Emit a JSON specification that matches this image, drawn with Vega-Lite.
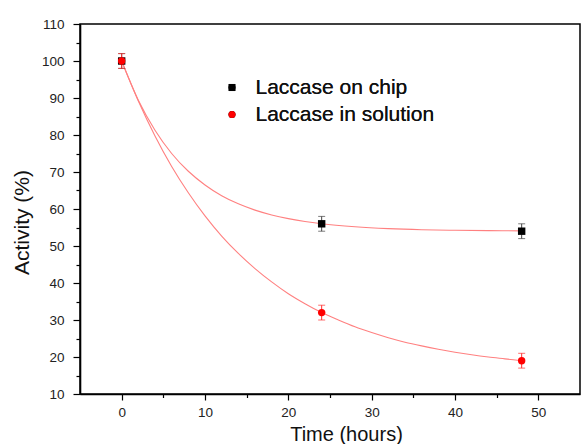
{
  "$schema": "https://vega.github.io/schema/vega-lite/v6.json",
  "width": 500,
  "height": 370,
  "autosize": "none",
  "padding": {"left": 80, "top": 24, "right": 1, "bottom": 50},
  "background": "white",
  "config": {
    "view": {"stroke": "#000", "strokeWidth": 1.5},
    "axis": {
      "labelFont": "Liberation Sans",
      "labelFontSize": 13.5,
      "labelColor": "#222",
      "titleFont": "Liberation Sans",
      "titleFontWeight": "normal",
      "titleColor": "#111",
      "domainColor": "#000",
      "domainWidth": 1.6,
      "tickColor": "#000",
      "tickWidth": 1.2,
      "grid": false
    }
  },
  "datasets": {
    "pts": [
      {"series": "Laccase on chip", "t": 0, "y": 100, "lo": 98, "hi": 102},
      {"series": "Laccase on chip", "t": 24, "y": 56, "lo": 54, "hi": 58},
      {"series": "Laccase on chip", "t": 48, "y": 54, "lo": 52, "hi": 56},
      {"series": "Laccase in solution", "t": 0, "y": 100, "lo": 98, "hi": 102},
      {"series": "Laccase in solution", "t": 24, "y": 32, "lo": 30, "hi": 34},
      {"series": "Laccase in solution", "t": 48, "y": 19, "lo": 17, "hi": 21}
    ],
    "curves": [
      {"c": "chip", "t": 0, "y": 100}, {"c": "chip", "t": 2, "y": 89.4}, {"c": "chip", "t": 4, "y": 81.3},
      {"c": "chip", "t": 6, "y": 75.0}, {"c": "chip", "t": 8, "y": 70.2}, {"c": "chip", "t": 10, "y": 66.5},
      {"c": "chip", "t": 12, "y": 63.6}, {"c": "chip", "t": 14, "y": 61.4}, {"c": "chip", "t": 16, "y": 59.7},
      {"c": "chip", "t": 18, "y": 58.4}, {"c": "chip", "t": 20, "y": 57.4}, {"c": "chip", "t": 22, "y": 56.6},
      {"c": "chip", "t": 24, "y": 56.0}, {"c": "chip", "t": 28, "y": 55.2}, {"c": "chip", "t": 32, "y": 54.7},
      {"c": "chip", "t": 36, "y": 54.4}, {"c": "chip", "t": 40, "y": 54.25}, {"c": "chip", "t": 44, "y": 54.15},
      {"c": "chip", "t": 48, "y": 54.1},
      {"c": "sol", "t": 0, "y": 100}, {"c": "sol", "t": 2, "y": 89.2}, {"c": "sol", "t": 4, "y": 79.75},
      {"c": "sol", "t": 6, "y": 71.5}, {"c": "sol", "t": 8, "y": 64.4}, {"c": "sol", "t": 10, "y": 58.15},
      {"c": "sol", "t": 12, "y": 52.7}, {"c": "sol", "t": 14, "y": 48.0}, {"c": "sol", "t": 16, "y": 43.9},
      {"c": "sol", "t": 18, "y": 40.3}, {"c": "sol", "t": 20, "y": 37.1}, {"c": "sol", "t": 22, "y": 34.4},
      {"c": "sol", "t": 24, "y": 32.0}, {"c": "sol", "t": 26, "y": 30.0}, {"c": "sol", "t": 28, "y": 28.15},
      {"c": "sol", "t": 30, "y": 26.6}, {"c": "sol", "t": 32, "y": 25.2}, {"c": "sol", "t": 34, "y": 24.0},
      {"c": "sol", "t": 36, "y": 23.0}, {"c": "sol", "t": 38, "y": 22.1}, {"c": "sol", "t": 40, "y": 21.3},
      {"c": "sol", "t": 42, "y": 20.6}, {"c": "sol", "t": 44, "y": 20.0}, {"c": "sol", "t": 46, "y": 19.5},
      {"c": "sol", "t": 48, "y": 19.0}
    ]
  },
  "encoding": {
    "x": {
      "field": "t", "type": "quantitative",
      "scale": {"domain": [-5, 55], "nice": false, "zero": false},
      "axis": {
        "title": "Time (hours)",
        "values": [0, 5, 10, 15, 20, 25, 30, 35, 40, 45, 50],
        "labelExpr": "datum.value % 10 === 0 ? datum.label : ''",
        "tickSize": {"condition": {"test": "datum.value % 10 === 0", "value": 6}, "value": 3.5},
        "labelPadding": 5,
        "titleFontSize": 20,
        "titleX": 266,
        "titleY": 40,
        "titleBaseline": "middle",
        "titleAlign": "center"
      }
    },
    "y": {
      "field": "y", "type": "quantitative",
      "scale": {"domain": [10, 110], "nice": false, "zero": false},
      "axis": {
        "title": "Activity (%)",
        "values": [10, 15, 20, 25, 30, 35, 40, 45, 50, 55, 60, 65, 70, 75, 80, 85, 90, 95, 100, 105, 110],
        "labelExpr": "datum.value % 10 === 0 ? datum.label : ''",
        "tickSize": {"condition": {"test": "datum.value % 10 === 0", "value": 7}, "value": 4},
        "labelPadding": 9,
        "titleFontSize": 21,
        "titleX": -58,
        "titleY": 198,
        "titleBaseline": "middle",
        "titleAlign": "center"
      }
    }
  },
  "layer": [
    {
      "data": {"name": "curves"},
      "mark": {"type": "line", "color": "#ff8080", "strokeWidth": 1.1, "interpolate": "monotone"},
      "encoding": {"detail": {"field": "c"}}
    },
    {
      "data": {"name": "pts"},
      "mark": {"type": "errorbar", "ticks": {"size": 7, "thickness": 1}, "rule": {"strokeWidth": 1}},
      "encoding": {
        "y": {"field": "lo", "type": "quantitative"},
        "y2": {"field": "hi"},
        "color": {"field": "series", "type": "nominal", "scale": {"domain": ["Laccase on chip", "Laccase in solution"], "range": ["#444444", "#ff3030"]}, "legend": null}
      }
    },
    {
      "data": {"name": "pts"},
      "mark": {"type": "point", "filled": true, "opacity": 1, "size": 55},
      "encoding": {
        "color": {
          "field": "series", "type": "nominal",
          "scale": {"domain": ["Laccase on chip", "Laccase in solution"], "range": ["#000000", "#ff0000"]},
          "legend": {
            "title": null,
            "orient": "none",
            "legendX": 141.5,
            "legendY": 53,
            "labelFont": "Liberation Sans",
            "labelFontSize": 21,
            "labelColor": "#111",
            "labelOffset": 13,
            "labelLimit": 400,
            "rowPadding": 5,
            "symbolSize": 50,
            "padding": 0
          }
        },
        "shape": {
          "field": "series", "type": "nominal",
          "scale": {"domain": ["Laccase on chip", "Laccase in solution"], "range": ["square", "circle"]},
          "legend": {
            "title": null,
            "orient": "none",
            "legendX": 141.5,
            "legendY": 53,
            "labelFont": "Liberation Sans",
            "labelFontSize": 21,
            "labelColor": "#111",
            "labelOffset": 13,
            "labelLimit": 400,
            "rowPadding": 5,
            "symbolSize": 50,
            "padding": 0
          }
        }
      }
    }
  ],
  "resolve": {"scale": {"color": "independent"}}
}
